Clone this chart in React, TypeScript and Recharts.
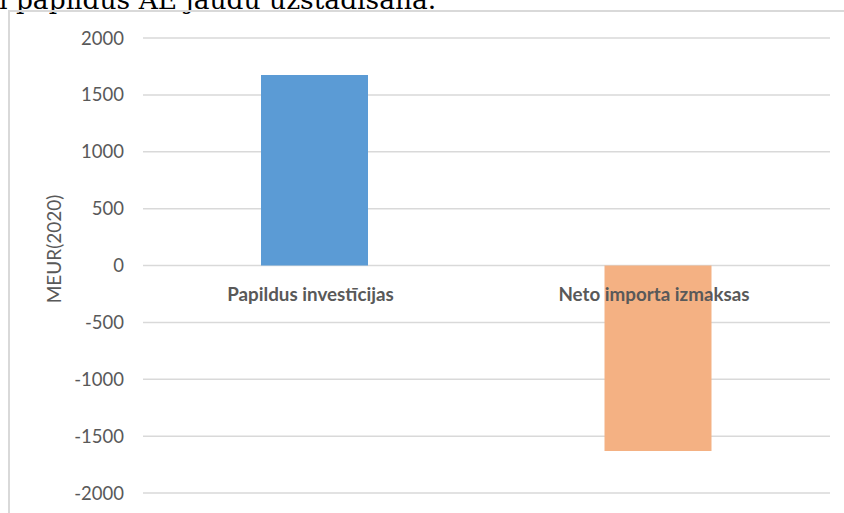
import { Bar, BarChart, CartesianGrid, Cell, LabelList, XAxis, YAxis } from 'recharts';

const categories = ['Papildus investīcijas', 'Neto importa izmaksas'];
const values = [1675, -1630];
const barColors = ['#5b9bd5', '#f4b183'];
const yTicks = [-2000, -1500, -1000, -500, 0, 500, 1000, 1500, 2000];

const data = categories.map((name, i) => ({ name, value: values[i] }));

const axisGray = '#595959';
const gridGray = '#d9d9d9';

function CategoryLabel(props: any) {
  const { x, y, width, height, value, index } = props;
  const top = Math.min(y, y + height);
  const bottom = Math.max(y, y + height);
  const zeroY = values[index] >= 0 ? bottom : top;
  return (
    <text
      x={x + width / 2 - 4}
      y={zeroY + 35}
      textAnchor="middle"
      fill={axisGray}
      style={{ fontFamily: 'Lato, sans-serif', fontWeight: 700, fontSize: 18.8 }}
    >
      {value}
    </text>
  );
}

function AxisTitle() {
  return (
    <text
      x={53}
      y={249}
      transform="rotate(-90 53 249)"
      textAnchor="middle"
      dominantBaseline="central"
      fill={axisGray}
      style={{ fontFamily: 'Lato, sans-serif', fontSize: 19 }}
    >
      MEUR(2020)
    </text>
  );
}

export default function App() {
  return (
    <div
      style={{
        position: 'fixed',
        left: 0,
        top: 0,
        width: 844,
        height: 513,
        overflow: 'hidden',
        background: '#ffffff',
      }}
    >
      <div
        style={{
          position: 'absolute',
          left: -1,
          top: -13,
          fontFamily: '"DejaVu Serif", serif',
          fontSize: 26.5,
          lineHeight: '26px',
          color: '#000',
          whiteSpace: 'nowrap',
        }}
      >
        ī papildus AE jaudu uzstādīšana.
      </div>
      <div
        style={{
          position: 'absolute',
          left: 8,
          top: 10,
          width: 900,
          height: 600,
          border: `2px solid ${gridGray}`,
        }}
      />
      <div style={{ position: 'absolute', left: 0, top: 0 }}>
        <BarChart width={844} height={513} data={data} margin={{ top: 38, right: 14, bottom: 20, left: 0 }}>
          <CartesianGrid horizontal vertical={false} stroke={gridGray} strokeWidth={1.5} />
          <XAxis dataKey="name" hide />
          <YAxis
            width={143}
            domain={[-2000, 2000]}
            ticks={yTicks}
            interval={0}
            axisLine={false}
            tickLine={false}
            tickSize={0}
            tickMargin={19}
            tick={{ fill: axisGray, fontSize: 18.5, fontFamily: 'Lato, sans-serif' }}
            label={<AxisTitle />}
          />
          <Bar dataKey="value" barSize={107} isAnimationActive={false}>
            {data.map((d, i) => (
              <Cell key={d.name} fill={barColors[i]} />
            ))}
            <LabelList dataKey="name" content={<CategoryLabel />} />
          </Bar>
        </BarChart>
      </div>
    </div>
  );
}
